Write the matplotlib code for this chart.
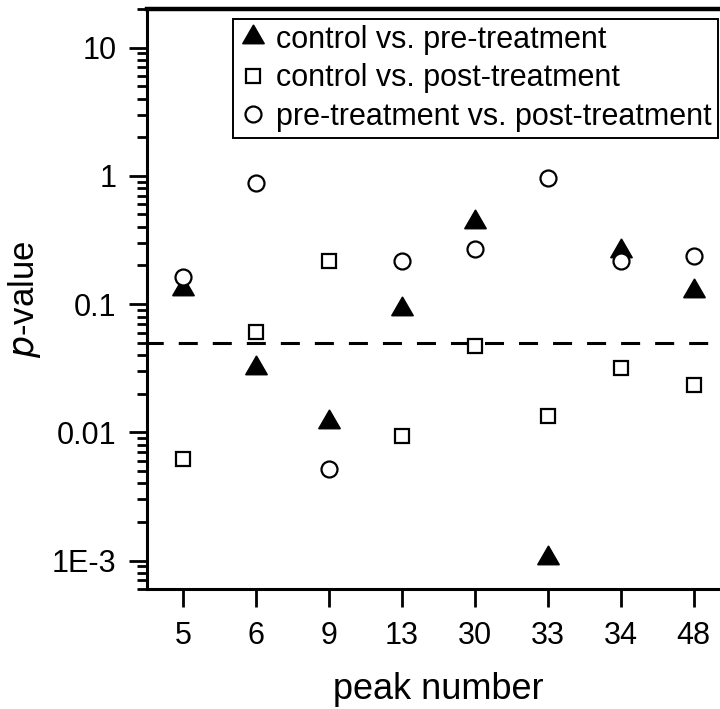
import numpy as np
import matplotlib
matplotlib.use('Agg')
import matplotlib.pyplot as plt
from matplotlib.ticker import FixedLocator, FixedFormatter, LogLocator, NullFormatter

# --- data ---
peaks = ['5', '6', '9', '13', '30', '33', '34', '48']
ctrl_vs_pre = [0.13, 0.032, 0.012, 0.092, 0.44, 0.00105, 0.26, 0.127]
ctrl_vs_post = [0.0062, 0.061, 0.216, 0.0094, 0.047, 0.0135, 0.0316, 0.0233]
pre_vs_post = [0.162, 0.877, 0.0052, 0.215, 0.267, 0.955, 0.216, 0.236]
y_ticks = [1e-3, 1e-2, 0.1, 1, 10]
y_tick_labels = ['1E-3', '0.01', '0.1', '1', '10']
alpha_level = 0.05

plt.rcParams['font.family'] = ['Liberation Sans', 'DejaVu Sans']
plt.rcParams['lines.scale_dashes'] = False

fig = plt.figure(figsize=(7.2, 7.09), dpi=100)
# right edge of the frame lies just outside the picture, as in the original
ax = fig.add_axes([147 / 720, 120 / 709, 583 / 720, 580 / 709])

x = np.arange(len(peaks))

# 1. significance threshold
ax.axhline(alpha_level, color='black', lw=2.2, linestyle=(2, (13.7, 10.8)), zorder=1)

# 2. three comparisons
ax.plot(x, ctrl_vs_pre, linestyle='none', marker=(3, 0, 0), ms=18, mfc='black',
        mec='black', mew=1.0, label='control vs. pre-treatment', zorder=3)
ax.plot(x, ctrl_vs_post, linestyle='none', marker='s', ms=10, mfc='white',
        mec='black', mew=1.6, label='control vs. post-treatment', zorder=4)
ax.plot(x, pre_vs_post, linestyle='none', marker='o', ms=11.5, mfc='white',
        mec='black', mew=1.6, label='pre-treatment vs. post-treatment', zorder=5)

# 3. axes
ax.set_yscale('log')
ax.set_ylim(6e-4, 20)
ax.set_xlim(-0.5, len(peaks) - 0.5)
ax.yaxis.set_major_locator(FixedLocator(y_ticks))
ax.yaxis.set_major_formatter(FixedFormatter(y_tick_labels))
ax.yaxis.set_minor_locator(LogLocator(base=10, subs=np.arange(2, 10), numticks=20))
ax.yaxis.set_minor_formatter(NullFormatter())
ax.set_xticks(x)
ax.set_xticklabels(peaks)

for s in ax.spines.values():
    s.set_linewidth(2.2)
ax.spines['top'].set_linewidth(3.2)
ax.spines['right'].set_visible(False)
ax.tick_params(axis='both', which='major', direction='out', length=13, width=2,
               labelsize=22, top=False, right=False)
ax.tick_params(axis='y', which='major', pad=9)
ax.tick_params(axis='x', which='major', pad=10)
ax.tick_params(axis='y', which='minor', direction='out', length=7, width=2, right=False)
ax.tick_params(axis='x', which='minor', bottom=False, top=False)

ax.set_xlabel('peak number', fontsize=26, labelpad=15)
ax.set_ylabel(r'$\mathit{p}$-value', fontsize=25, labelpad=6)

# 4. legend in the upper right
leg = ax.legend(loc='upper right', bbox_to_anchor=(718 / 720, 1 - 19 / 709),
                bbox_transform=fig.transFigure, fontsize=22, frameon=True,
                fancybox=False, framealpha=1, edgecolor='black', borderaxespad=0,
                handlelength=0.9, handletextpad=0.3, labelspacing=0.27,
                borderpad=0.2)
leg.get_frame().set_linewidth(1.4)

fig.savefig('out.png', dpi=100)
